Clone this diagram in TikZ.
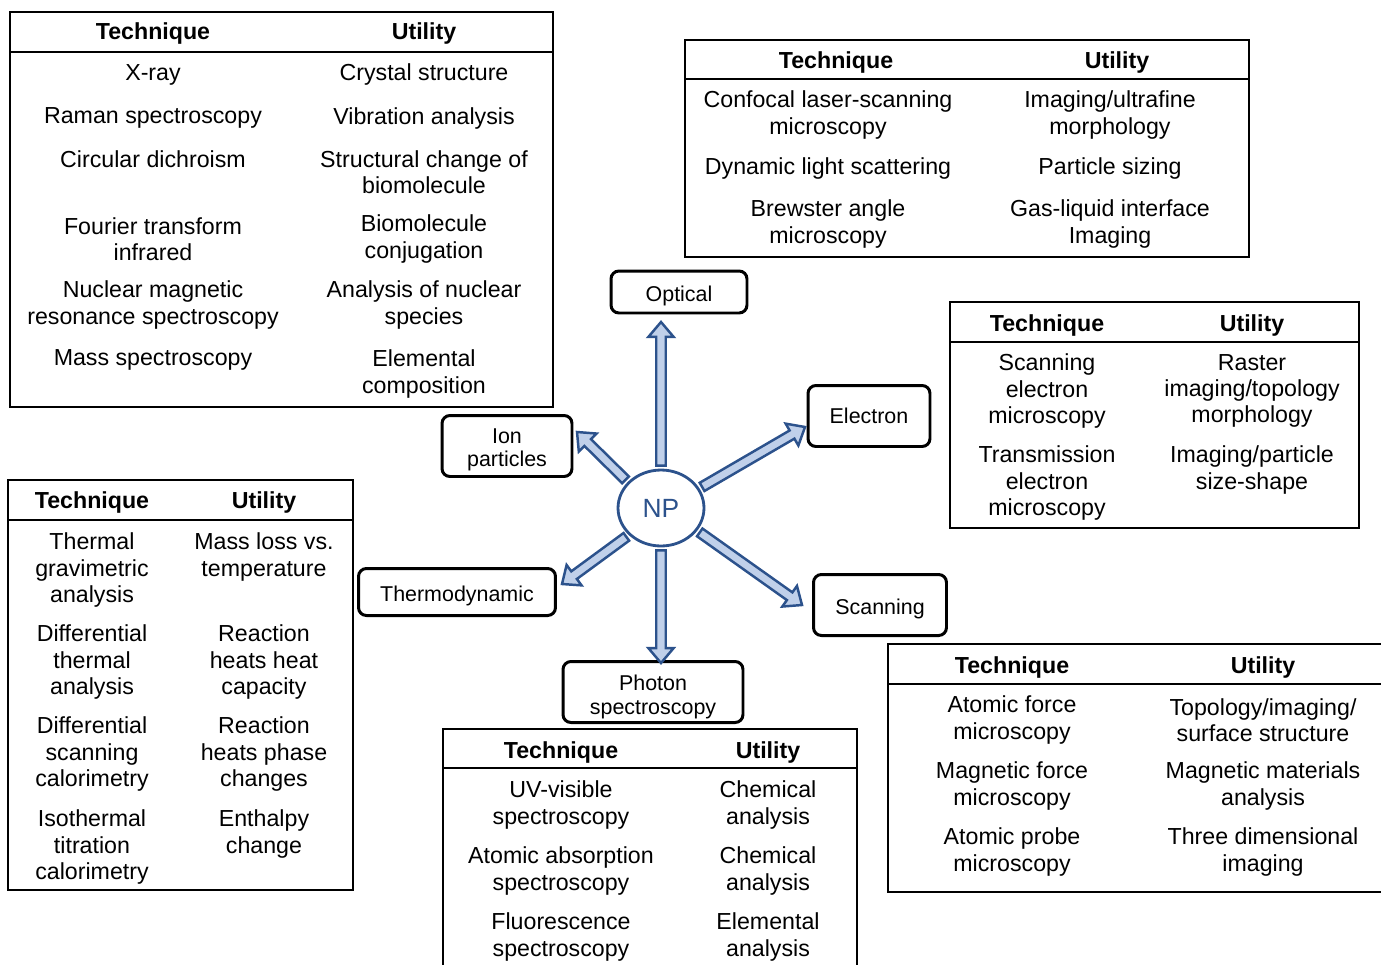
\documentclass[tikz,border=0pt]{standalone}
\usepackage{fontspec}
\setmainfont{Liberation Sans}
\usepackage{tikz}
\usepackage{xcolor}
\usetikzlibrary{calc}
\usetikzlibrary{positioning}
\usetikzlibrary{shapes.geometric}

\definecolor{npblue}{RGB}{44,82,140}
\definecolor{arrowfill}{RGB}{192,208,234}

\newcommand\boxstrut{\rule{0pt}{12.8pt}}

\tikzset{
  tabframe/.style={line width=1pt},
  head/.style={inner sep=0pt, yshift=-0.04cm, font=\fontsize{13.2}{15}\selectfont\bfseries},
  cell/.style={inner sep=0pt, yshift=-0.04cm, align=center, font=\fontsize{13.2}{15}\selectfont},
  method/.style={draw, line width=1.7pt, rounded corners=4.5pt, align=center,
    inner sep=0pt, font=\fontsize{12.2}{13.6}\selectfont},
  npcircle/.style={ellipse, draw=npblue, line width=1.6pt, text=npblue,
    minimum width=1.72cm, minimum height=1.52cm, inner sep=0pt,
    font=\fontsize{15}{17}\selectfont},
  npto/.style={draw=npblue, fill=arrowfill, line width=1.4pt, line join=miter,
    to path={let \p1=(\tikztostart), \p2=(\tikztotarget),
      \n1={atan2(\y2-\y1,\x2-\x1)}, \n2={veclen(\x2-\x1,\y2-\y1)} in
      ($(\p1)+({\n1}:1.7pt)+({\n1+90}:2.7pt)$)
      -- ($(\p1)+({\n1}:{\n2-8.5pt})+({\n1+90}:2.7pt)$)
      -- ($(\p1)+({\n1}:{\n2-8.5pt})+({\n1+90}:7.2pt)$)
      -- (\p2)
      -- ($(\p1)+({\n1}:{\n2-8.5pt})+({\n1-90}:7.2pt)$)
      -- ($(\p1)+({\n1}:{\n2-8.5pt})+({\n1-90}:2.7pt)$)
      -- ($(\p1)+({\n1}:1.7pt)+({\n1-90}:2.7pt)$) -- cycle}}
}

\begin{document}
\begin{tikzpicture}[x=0.02cm,y=-0.02cm]
\clip (0,0) rectangle (1381,964);

% structural / spectroscopic
\draw[tabframe] (10,12) rectangle (553,407);
\draw[tabframe] (10,52) -- (553,52);
\node[head] (sh1) at (153,32) {Technique};
\node[head] (sh2) at (424,32) {Utility};
\node[cell] (xray) at (153,73) {X-ray};
\node[cell] (xrayU) at (424,73) {Crystal structure};
\node[cell] (raman) at (153,116) {Raman spectroscopy};
\node[cell] (ramanU) at (424,116) {Vibration analysis};
\node[cell] (cd) at (153,157) {Circular dichroism};
\node[cell] (cdU) at (424,170) {Structural change of\\biomolecule};
\node[cell] (ftir) at (153,237) {Fourier transform\\infrared};
\node[cell] (ftirU) at (424,237) {Biomolecule\\conjugation};
\node[cell] (nmr) at (153,303) {Nuclear magnetic\\resonance spectroscopy};
\node[cell] (nmrU) at (424,303) {Analysis of nuclear\\species};
\node[cell] (ms) at (153,358) {Mass spectroscopy};
\node[cell] (msU) at (424,372) {Elemental\\composition};

% optical
\draw[tabframe] (685,40) rectangle (1249,257);
\draw[tabframe] (685,79) -- (1249,79);
\node[head] (oh1) at (836,60) {Technique};
\node[head] (oh2) at (1117,60) {Utility};
\node[cell] (clsm) at (828,113) {Confocal laser-scanning\\microscopy};
\node[cell] (clsmU) at (1110,113) {Imaging/ultrafine\\morphology};
\node[cell] (dls) at (828,166) {Dynamic light scattering};
\node[cell] (dlsU) at (1110,166) {Particle sizing};
\node[cell] (bam) at (828,222) {Brewster angle\\microscopy};
\node[cell] (bamU) at (1110,222) {Gas-liquid interface\\Imaging};

% electron
\draw[tabframe] (950,302) rectangle (1359,528);
\draw[tabframe] (950,342) -- (1359,342);
\node[head] (eh1) at (1047,323) {Technique};
\node[head] (eh2) at (1252,323) {Utility};
\node[cell] (sem) at (1047,389) {Scanning\\electron\\microscopy};
\node[cell] (semU) at (1252,389) {Raster\\imaging/topology\\morphology};
\node[cell] (tem) at (1047,481) {Transmission\\electron\\microscopy};
\node[cell] (temU) at (1252,468) {Imaging/particle\\size-shape};

% thermodynamic
\draw[tabframe] (8,480) rectangle (353,890);
\draw[tabframe] (8,520) -- (353,520);
\node[head] (th1) at (92,500) {Technique};
\node[head] (th2) at (264,500) {Utility};
\node[cell] (tga) at (92,568) {Thermal\\gravimetric\\analysis};
\node[cell] (tgaU) at (264,555) {Mass loss vs.\\temperature};
\node[cell] (dta) at (92,660) {Differential\\thermal\\analysis};
\node[cell] (dtaU) at (264,660) {Reaction\\heats heat\\capacity};
\node[cell] (dsc) at (92,752) {Differential\\scanning\\calorimetry};
\node[cell] (dscU) at (264,752) {Reaction\\heats phase\\changes};
\node[cell] (itc) at (92,845) {Isothermal\\titration\\calorimetry};
\node[cell] (itcU) at (264,832) {Enthalpy\\change};

% photon spectroscopy
\draw[tabframe] (443,729) rectangle (857,1000);
\draw[tabframe] (443,768) -- (857,768);
\node[head] (ph1) at (561,750) {Technique};
\node[head] (ph2) at (768,750) {Utility};
\node[cell] (uv) at (561,803) {UV-visible\\spectroscopy};
\node[cell] (uvU) at (768,803) {Chemical\\analysis};
\node[cell] (aas) at (561,869) {Atomic absorption\\spectroscopy};
\node[cell] (aasU) at (768,869) {Chemical\\analysis};
\node[cell] (fl) at (561,935) {Fluorescence\\spectroscopy};
\node[cell] (flU) at (768,935) {Elemental\\analysis};

% scanning
\draw[tabframe] (888,644) rectangle (1420,892);
\draw[tabframe] (888,684) -- (1420,684);
\node[head] (ch1) at (1012,665) {Technique};
\node[head] (ch2) at (1263,665) {Utility};
\node[cell] (afm) at (1012,718) {Atomic force\\microscopy};
\node[cell] (afmU) at (1263,718) {Topology/imaging/\\surface structure};
\node[cell] (mfm) at (1012,784) {Magnetic force\\microscopy};
\node[cell] (mfmU) at (1263,784) {Magnetic materials\\analysis};
\node[cell] (apm) at (1012,850) {Atomic probe\\microscopy};
\node[cell] (apmU) at (1263,850) {Three dimensional\\imaging};

\node[method, minimum width=2.72cm, minimum height=0.84cm] (optical) at (679,292) {\boxstrut Optical};
\node[method, minimum width=2.44cm, minimum height=1.22cm] (electron) at (869,416) {Electron};
\node[method, minimum width=2.6cm, minimum height=1.22cm] (ion) at (507,446) {\boxstrut Ion\\particles};
\node[method, minimum width=3.94cm, minimum height=0.94cm] (thermo) at (457,592) {\boxstrut Thermodynamic};
\node[method, minimum width=2.66cm, minimum height=1.22cm] (scanning) at (880,605) {\boxstrut Scanning};
\node[method, minimum width=3.6cm, minimum height=1.22cm] (photon) at (653,692) {\rule{0pt}{14pt}Photon\\spectroscopy};

\node[npcircle] (np) at (661,508) {NP};

\coordinate (tipOpt) at (661,322);
\coordinate (tipEle) at (805,427);
\coordinate (tipIon) at (577,432);
\coordinate (tipThe) at (562,584);
\coordinate (tipSca) at (802,605);
\coordinate (tipPho) at (661,663);

\draw[npto] (np.90) to (tipOpt);
\draw[npto] (np.27) to (tipEle);
\draw[npto] (np.142) to (tipIon);
\draw[npto] (np.220) to (tipThe);
\draw[npto] (np.328) to (tipSca);
\draw[npto] (np.270) to (tipPho);
\end{tikzpicture}
\end{document}
